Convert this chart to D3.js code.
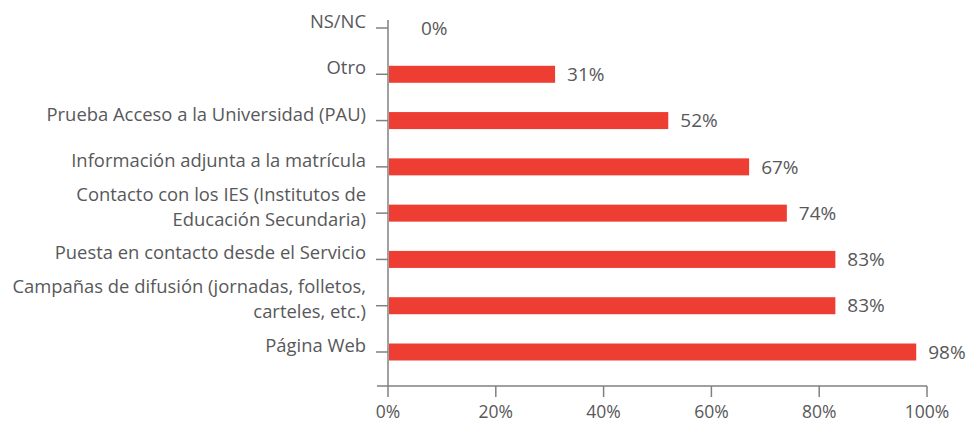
<!DOCTYPE html>
<html>
<head>
<meta charset="utf-8">
<script src="https://cdn.jsdelivr.net/npm/d3@7"></script>
<style>
body { margin: 0; background: #fff; }
</style>
</head>
<body>
<svg id="chart" width="975" height="423"></svg>
<script>
const categories = [
    ["NS/NC"],
    ["Otro"],
    ["Prueba Acceso a la Universidad (PAU)"],
    ["Información adjunta a la matrícula"],
    ["Contacto con los IES (Institutos de", "Educación Secundaria)"],
    ["Puesta en contacto desde el Servicio"],
    ["Campañas de difusión (jornadas, folletos,", "carteles, etc.)"],
    ["Página Web"]
]
const values = [0, 31, 52, 67, 74, 83, 83, 98]
const xTicks = [0, 20, 40, 60, 80, 100]

const data = categories.map(function(c, i){ return {key: c.join(" "), lines: c, value: values[i]} })

const font = "Open Sans, sans-serif"
const textColor = "#58585a"
const axisColor = "#808080"
const barColor = "#ee3e34"

svg = d3.select("#chart")

const x = d3.scaleLinear().domain([0, 100]).range([388, 927])
const y = d3.scalePoint().domain(data.map(d => d.key)).range([28, 352])
const axisBottomY = 386

// axes lines
svg.append("line").attr("x1", x(0)).attr("x2", x(0)).attr("y1", 20).attr("y2", axisBottomY)
    .attr("stroke", axisColor).attr("stroke-width", 1.5)
svg.append("line").attr("x1", x(0) - 11).attr("x2", x(100)).attr("y1", axisBottomY).attr("y2", axisBottomY)
    .attr("stroke", axisColor).attr("stroke-width", 1.5)

// x ticks
svg.append("g").selectAll(".xtick").data(xTicks).join("line").attr("class", "xtick")
    .attr("x1", d => x(d)).attr("x2", d => x(d))
    .attr("y1", axisBottomY).attr("y2", axisBottomY + 11)
    .attr("stroke", axisColor).attr("stroke-width", 1.5)
svg.append("g").selectAll(".xlabel").data(xTicks).join("text").attr("class", "xlabel")
    .attr("x", d => x(d)).attr("y", 418)
    .attr("text-anchor", "middle")
    .attr("font-family", font).attr("font-size", 17.5).attr("fill", textColor)
    .text(d => d + "%")

// y ticks
svg.append("g").selectAll(".ytick").data(data).join("line").attr("class", "ytick")
    .attr("x1", x(0) - 12).attr("x2", x(0))
    .attr("y1", d => y(d.key)).attr("y2", d => y(d.key))
    .attr("stroke", axisColor).attr("stroke-width", 1.5)

// category labels
const labels = svg.append("g").selectAll(".ylabel").data(data).join("text").attr("class", "ylabel")
    .attr("x", 366)
    .attr("y", d => y(d.key) - (d.lines.length - 1) * 12.5)
    .attr("dy", "0.35em")
    .attr("text-anchor", "end")
    .attr("font-family", font).attr("font-size", 18.4).attr("fill", textColor)
labels.selectAll("tspan").data(d => d.lines).join("tspan")
    .attr("x", 366)
    .attr("dy", (d, i) => i == 0 ? 0 : 25)
    .text(d => d)

// bars
svg.append("g").selectAll(".bar").data(data).join("rect").attr("class", "bar")
    .attr("x", x(0) + 1)
    .attr("y", d => y(d.key) - 8.5)
    .attr("width", d => Math.max(0, x(d.value) - x(0) - 1))
    .attr("height", 17)
    .attr("fill", barColor)

// value labels
svg.append("g").selectAll(".vlabel").data(data).join("text").attr("class", "vlabel")
    .attr("x", d => d.value == 0 ? x(0) + 33 : x(d.value) + 12)
    .attr("y", d => y(d.key))
    .attr("dy", "0.35em")
    .attr("font-family", font).attr("font-size", 19).attr("fill", textColor)
    .text(d => d.value + "%")
</script>
</body>
</html>
